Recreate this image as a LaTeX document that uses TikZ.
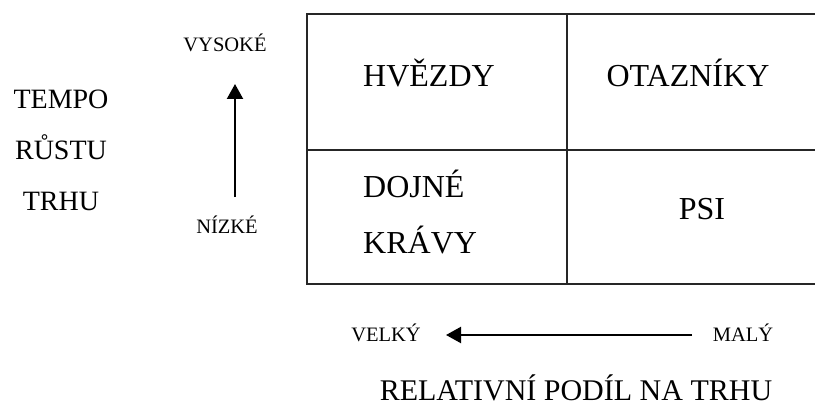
\documentclass[tikz,border=0pt]{standalone}
\usepackage{fontspec}
\setmainfont{Liberation Serif}
\usetikzlibrary{arrows.meta}
\begin{document}
\begin{tikzpicture}[x=1pt,y=-1pt,
  big/.style={font=\fontsize{28}{34}\selectfont,inner sep=0pt,anchor=base},
  cell/.style={font=\fontsize{32}{38}\selectfont,inner sep=0pt,anchor=base},
  small/.style={font=\fontsize{20.5}{24}\selectfont,inner sep=0pt,anchor=base},
  grid/.style={line width=1.6pt,black!85},
  axis/.style={line width=2.2pt,-{Triangle[length=15pt,width=16pt]}}]
\useasboundingbox (0,0) rectangle (815,412);
% table
\draw[grid] (815,14) -- (307,14) -- (307,284) -- (815,284);
\draw[grid] (307,150) -- (815,150);
\draw[grid] (567,14) -- (567,284);
% left labels
\node[big] (t1) at (61,109) {TEMPO};
\node[big] (t2) at (61,160) {RŮSTU};
\node[big] (t3) at (61,210) {TRHU};
\node[small] (hi) at (225,52) {VYSOKÉ};
\node[small] (lo) at (227,233) {NÍZKÉ};
\coordinate (ua) at (235,197);
\coordinate (ub) at (235,84);
\draw[axis] (ua) -- (ub);
% cells
\node[cell,anchor=base west] (c1) at (363,87) {HVĚZDY};
\node[cell] (c2) at (688,87) {OTAZNÍKY};
\node[cell,anchor=base west] (c3) at (363,197) {DOJNÉ};
\node[cell,anchor=base west] (c4) at (363,253) {KRÁVY};
\node[cell] (c5) at (702,219) {PSI};
% bottom
\node[small] (vl) at (386,341) {VELKÝ};
\node[small] (ml) at (743,341) {MALÝ};
\coordinate (ra) at (692,335);
\coordinate (rb) at (446,335);
\draw[axis] (ra) -- (rb);
\node[big,font=\fontsize{30}{36}\selectfont] (rel) at (576,400) {RELATIVNÍ PODÍL NA TRHU};
\end{tikzpicture}
\end{document}
